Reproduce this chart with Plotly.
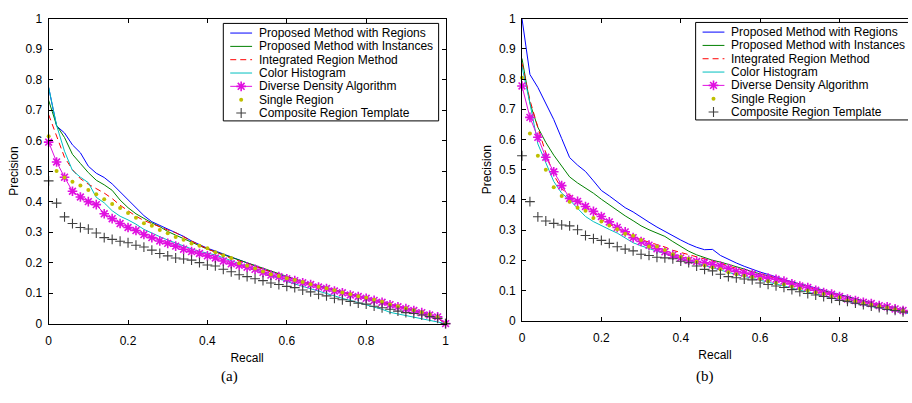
"""Precision-recall curves for two query sets, (a) and (b)"""

import plotly.graph_objects as go

# Recall sampling points (shared by every curve)
RECALL = [0.00, 0.02, 0.04, 0.06, 0.08, 0.10, 0.12, 0.14, 0.16, 0.18,
          0.20, 0.22, 0.24, 0.26, 0.28, 0.30, 0.32, 0.34, 0.36, 0.38,
          0.40, 0.42, 0.44, 0.46, 0.48, 0.50, 0.52, 0.54, 0.56, 0.58,
          0.60, 0.62, 0.64, 0.66, 0.68, 0.70, 0.72, 0.74, 0.76, 0.78,
          0.80, 0.82, 0.84, 0.86, 0.88, 0.90, 0.92, 0.94, 0.96, 0.98, 1.00]

NAMES = ['Proposed Method with Regions', 'Proposed Method with Instances',
         'Integrated Region Method', 'Color Histogram',
         'Diverse Density Algorithm', 'Single Region', 'Composite Region Template']

# ---- panel (a) precision values ----
A_REGIONS = [0.774, 0.648, 0.625, 0.586, 0.560, 0.516, 0.493, 0.479, 0.458, 0.432,
             0.405, 0.380, 0.354, 0.334, 0.322, 0.311, 0.299, 0.286, 0.271, 0.258,
             0.247, 0.238, 0.228, 0.218, 0.209, 0.200, 0.190, 0.180, 0.170, 0.162,
             0.153, 0.145, 0.138, 0.131, 0.124, 0.117, 0.110, 0.104, 0.098, 0.091,
             0.085, 0.078, 0.072, 0.066, 0.059, 0.052, 0.045, 0.038, 0.029, 0.018, 0.0]
A_INSTANCES = [0.732, 0.650, 0.610, 0.555, 0.525, 0.495, 0.470, 0.455, 0.437, 0.405,
               0.380, 0.360, 0.345, 0.330, 0.318, 0.302, 0.290, 0.278, 0.266, 0.254,
               0.244, 0.235, 0.226, 0.216, 0.207, 0.199, 0.190, 0.180, 0.171, 0.163,
               0.154, 0.145, 0.137, 0.130, 0.123, 0.116, 0.109, 0.103, 0.096, 0.090,
               0.083, 0.077, 0.071, 0.064, 0.057, 0.050, 0.043, 0.036, 0.028, 0.018, 0.0]
A_INTEGRATED = [0.685, 0.615, 0.545, 0.505, 0.475, 0.457, 0.442, 0.428, 0.410, 0.388,
                0.370, 0.352, 0.338, 0.327, 0.317, 0.307, 0.298, 0.284, 0.270, 0.257,
                0.245, 0.234, 0.225, 0.214, 0.205, 0.197, 0.188, 0.178, 0.169, 0.161,
                0.153, 0.145, 0.137, 0.130, 0.123, 0.116, 0.109, 0.102, 0.096, 0.090,
                0.083, 0.077, 0.071, 0.064, 0.057, 0.050, 0.043, 0.036, 0.028, 0.018, 0.0]
A_COLOR_HIST = [0.775, 0.650, 0.565, 0.502, 0.480, 0.462, 0.414, 0.396, 0.370, 0.352,
                0.340, 0.326, 0.309, 0.296, 0.285, 0.274, 0.264, 0.254, 0.245, 0.237,
                0.231, 0.225, 0.216, 0.206, 0.197, 0.188, 0.177, 0.167, 0.156, 0.147,
                0.138, 0.130, 0.122, 0.114, 0.105, 0.097, 0.090, 0.083, 0.076, 0.069,
                0.061, 0.054, 0.047, 0.037, 0.032, 0.027, 0.020, 0.015, 0.010, 0.005, 0.0]
A_DIVERSE = [0.595, 0.530, 0.480, 0.434, 0.415, 0.400, 0.390, 0.360, 0.344, 0.328,
             0.315, 0.305, 0.292, 0.282, 0.271, 0.263, 0.254, 0.244, 0.236, 0.230,
             0.222, 0.215, 0.205, 0.196, 0.191, 0.185, 0.178, 0.168, 0.159, 0.154,
             0.147, 0.141, 0.134, 0.128, 0.120, 0.115, 0.107, 0.101, 0.094, 0.089,
             0.083, 0.076, 0.070, 0.062, 0.055, 0.049, 0.043, 0.036, 0.028, 0.022, 0.0]
A_SINGLE = [0.614, 0.500, 0.479, 0.465, 0.453, 0.438, 0.424, 0.408, 0.392, 0.379,
            0.363, 0.347, 0.329, 0.321, 0.307, 0.296, 0.284, 0.275, 0.263, 0.255,
            0.247, 0.234, 0.224, 0.215, 0.198, 0.190, 0.181, 0.171, 0.162, 0.156,
            0.149, 0.143, 0.136, 0.129, 0.121, 0.116, 0.109, 0.102, 0.096, 0.090,
            0.085, 0.078, 0.072, 0.063, 0.057, 0.050, 0.044, 0.037, 0.030, 0.022, 0.0]
A_TEMPLATE = [0.468, 0.395, 0.350, 0.328, 0.315, 0.310, 0.297, 0.282, 0.276, 0.270,
              0.265, 0.257, 0.251, 0.241, 0.230, 0.222, 0.215, 0.212, 0.208, 0.200,
              0.192, 0.189, 0.178, 0.170, 0.160, 0.154, 0.147, 0.141, 0.133, 0.128,
              0.122, 0.118, 0.110, 0.104, 0.096, 0.091, 0.083, 0.078, 0.073, 0.067,
              0.064, 0.057, 0.052, 0.047, 0.041, 0.036, 0.033, 0.028, 0.023, 0.017, 0.0]

# ---- panel (b) precision values ----
B_REGIONS = [1.000, 0.815, 0.772, 0.720, 0.666, 0.603, 0.540, 0.515, 0.494, 0.463,
             0.431, 0.413, 0.395, 0.374, 0.360, 0.342, 0.326, 0.310, 0.295, 0.282,
             0.267, 0.254, 0.243, 0.235, 0.236, 0.216, 0.203, 0.191, 0.180, 0.170,
             0.161, 0.153, 0.145, 0.136, 0.129, 0.121, 0.115, 0.108, 0.100, 0.093,
             0.086, 0.078, 0.071, 0.065, 0.058, 0.052, 0.046, 0.039, 0.032, 0.025, 0.0]
B_INSTANCES = [0.868, 0.720, 0.640, 0.590, 0.548, 0.512, 0.476, 0.456, 0.440, 0.422,
               0.402, 0.383, 0.365, 0.347, 0.331, 0.314, 0.301, 0.290, 0.279, 0.262,
               0.245, 0.230, 0.218, 0.208, 0.200, 0.194, 0.187, 0.178, 0.171, 0.162,
               0.155, 0.147, 0.140, 0.133, 0.126, 0.119, 0.112, 0.105, 0.098, 0.092,
               0.085, 0.078, 0.072, 0.065, 0.059, 0.053, 0.047, 0.040, 0.034, 0.026, 0.0]
B_INTEGRATED = [0.852, 0.730, 0.640, 0.555, 0.482, 0.437, 0.416, 0.398, 0.383, 0.357,
                0.335, 0.319, 0.307, 0.293, 0.280, 0.268, 0.260, 0.252, 0.244, 0.233,
                0.226, 0.219, 0.212, 0.206, 0.198, 0.190, 0.181, 0.173, 0.166, 0.160,
                0.155, 0.148, 0.141, 0.134, 0.126, 0.118, 0.112, 0.104, 0.096, 0.090,
                0.082, 0.074, 0.068, 0.062, 0.057, 0.050, 0.045, 0.039, 0.033, 0.026, 0.0]
B_COLOR_HIST = [0.841, 0.720, 0.585, 0.520, 0.461, 0.422, 0.400, 0.372, 0.345, 0.328,
                0.314, 0.302, 0.290, 0.275, 0.258, 0.248, 0.238, 0.230, 0.222, 0.215,
                0.207, 0.198, 0.190, 0.183, 0.176, 0.168, 0.160, 0.153, 0.147, 0.141,
                0.135, 0.129, 0.122, 0.115, 0.108, 0.101, 0.094, 0.087, 0.081, 0.075,
                0.069, 0.063, 0.057, 0.052, 0.047, 0.042, 0.037, 0.032, 0.027, 0.022, 0.0]
B_DIVERSE = [0.777, 0.673, 0.607, 0.541, 0.493, 0.447, 0.405, 0.395, 0.378, 0.362,
             0.345, 0.327, 0.309, 0.294, 0.275, 0.262, 0.250, 0.238, 0.228, 0.217,
             0.208, 0.200, 0.196, 0.192, 0.186, 0.181, 0.173, 0.163, 0.158, 0.154,
             0.146, 0.141, 0.137, 0.131, 0.122, 0.115, 0.110, 0.101, 0.093, 0.088,
             0.080, 0.072, 0.067, 0.061, 0.057, 0.050, 0.046, 0.039, 0.034, 0.026, 0.0]
B_SINGLE = [0.804, 0.620, 0.546, 0.500, 0.442, 0.413, 0.394, 0.374, 0.364, 0.340,
            0.328, 0.315, 0.303, 0.288, 0.281, 0.267, 0.246, 0.246, 0.234, 0.220,
            0.212, 0.205, 0.195, 0.183, 0.176, 0.170, 0.160, 0.154, 0.149, 0.144,
            0.138, 0.131, 0.125, 0.120, 0.112, 0.106, 0.099, 0.093, 0.088, 0.080,
            0.077, 0.067, 0.064, 0.058, 0.053, 0.048, 0.043, 0.037, 0.032, 0.025, 0.0]
B_TEMPLATE = [0.546, 0.394, 0.344, 0.330, 0.322, 0.317, 0.314, 0.301, 0.282, 0.272,
              0.266, 0.256, 0.245, 0.237, 0.231, 0.220, 0.216, 0.210, 0.208, 0.205,
              0.197, 0.192, 0.181, 0.170, 0.165, 0.154, 0.146, 0.142, 0.138, 0.135,
              0.125, 0.120, 0.115, 0.110, 0.103, 0.096, 0.090, 0.085, 0.080, 0.074,
              0.067, 0.064, 0.058, 0.053, 0.048, 0.043, 0.037, 0.034, 0.029, 0.024, 0.0]

PANEL_A = [A_REGIONS, A_INSTANCES, A_INTEGRATED, A_COLOR_HIST, A_DIVERSE, A_SINGLE, A_TEMPLATE]
PANEL_B = [B_REGIONS, B_INSTANCES, B_INTEGRATED, B_COLOR_HIST, B_DIVERSE, B_SINGLE, B_TEMPLATE]

W, H = 912, 403
SANS = "Liberation Sans, Arial, sans-serif"
SERIF = "Liberation Serif, Times New Roman, serif"

MAGENTA = '#e010e0'
GREY = '#404040'

# MATLAB-like line specs, one per curve
STYLES = [
    dict(mode='lines', line=dict(color='#0000ff', width=1)),
    dict(mode='lines', line=dict(color='#008000', width=1)),
    dict(mode='lines', line=dict(color='#ff0000', width=1, dash='6px,4px')),
    dict(mode='lines', line=dict(color='#00bfbf', width=1)),
    dict(mode='lines+markers', line=dict(color=MAGENTA, width=1),
         marker=dict(symbol='asterisk-open', size=8, color=MAGENTA,
                     line=dict(color=MAGENTA, width=1.6))),
    dict(mode='markers', marker=dict(symbol='circle', size=4, color='#bfbf00')),
    dict(mode='markers', marker=dict(symbol='cross-thin-open', size=7, color=GREY,
                                     line=dict(color=GREY, width=1.1))),
]

fig = go.Figure()

# Curves
for panel, (xa, ya) in [(PANEL_A, ('x', 'y')), (PANEL_B, ('x2', 'y2'))]:
    for name, vals, style in zip(NAMES, panel, STYLES):
        fig.add_trace(go.Scatter(x=RECALL, y=vals, name=name, xaxis=xa, yaxis=ya,
                                 cliponaxis=False, showlegend=False, **style))


def draw_legend(left, top):
    """Boxed legend drawn on the pixel overlay axes"""
    fig.add_shape(type='rect', xref='x3', yref='y3', x0=left, x1=left + 217,
                  y0=top, y1=top + 101, line=dict(color='black', width=1),
                  fillcolor='white', layer='below')
    for i, (name, style) in enumerate(zip(NAMES, STYLES)):
        yy = top + 10 + 13.8 * i
        if 'lines' in style['mode']:
            fig.add_trace(go.Scatter(x=[left + 7, left + 29], y=[yy, yy], mode='lines',
                                     line=style['line'], xaxis='x3', yaxis='y3',
                                     showlegend=False, hoverinfo='skip'))
        if 'markers' in style['mode']:
            fig.add_trace(go.Scatter(x=[left + 18], y=[yy], mode='markers',
                                     marker=style['marker'], xaxis='x3', yaxis='y3',
                                     showlegend=False, hoverinfo='skip'))
        fig.add_annotation(x=left + 34, y=yy, xref='x3', yref='y3', text=name,
                           showarrow=False, xanchor='left', yanchor='middle',
                           font=dict(family=SANS, size=12, color='black'))


draw_legend(222, 17)
draw_legend(698, 16)

axis_common = dict(showline=True, linecolor='black', linewidth=1, ticks='inside',
                   ticklen=4, tickcolor='black', showgrid=False, zeroline=False,
                   tickfont=dict(family=SANS, size=12, color='black'))

xtitle = dict(text='Recall', font=dict(family=SANS, size=12), standoff=6)
ytitle = dict(text='Precision', font=dict(family=SANS, size=12), standoff=4)

fig.update_layout(
    width=W, height=H,
    margin=dict(l=0, r=0, t=0, b=0),
    paper_bgcolor='white', plot_bgcolor='rgba(0,0,0,0)',
    showlegend=False,
    font=dict(family=SANS, size=12, color='black'),
    xaxis=dict(domain=[46 / W, 446 / W], range=[0, 1], dtick=0.2, anchor='y',
               mirror='ticks', title=xtitle, ticklabelstandoff=6, **axis_common),
    yaxis=dict(domain=[1 - 328 / H, 1 - 12 / H], range=[0, 1], dtick=0.1, anchor='x',
               mirror='ticks', title=ytitle, ticklabelstandoff=3, **axis_common),
    # panel (b) runs past the right edge of the picture
    xaxis2=dict(domain=[523 / W, 1], range=[0, (W - 523) / 400], dtick=0.2, anchor='y2',
                mirror='ticks', title=xtitle, ticklabelstandoff=6, **axis_common),
    yaxis2=dict(domain=[1 - 325 / H, 1 - 12 / H], range=[0, 1], dtick=0.1, anchor='x2',
                mirror=False, title=ytitle, ticklabelstandoff=3, **axis_common),
    # pixel-space overlay for the legends
    xaxis3=dict(domain=[0, 1], range=[0, W], visible=False, anchor='y3', fixedrange=True),
    yaxis3=dict(domain=[0, 1], range=[H, 0], visible=False, anchor='x3', fixedrange=True),
)

# Panel captions
for label, xpos in [('(a)', 228), ('(b)', 707)]:
    fig.add_annotation(x=xpos / W, y=1 - 383 / H, xref='paper', yref='paper', text=label,
                       showarrow=False, xanchor='center', yanchor='middle',
                       font=dict(family=SERIF, size=15, color='black'))

# drop the browser's default 8px body margin so the plot sits at the page origin
NO_MARGIN = ("document.body.style.margin='0';document.body.style.padding='0';"
             "document.documentElement.style.overflow='hidden';")

fig.write_html("out.html", post_script=NO_MARGIN, config={'displayModeBar': False})
